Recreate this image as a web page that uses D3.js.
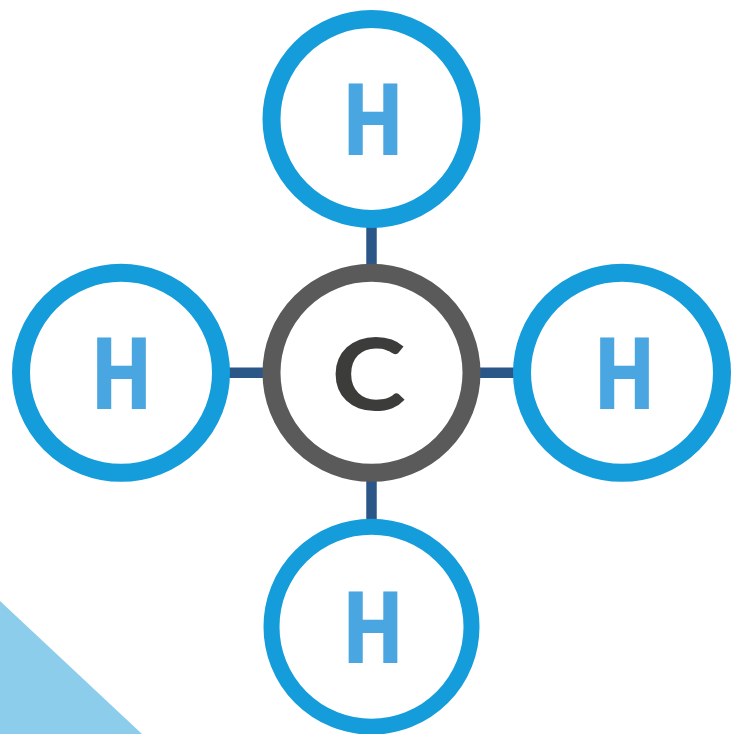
<!DOCTYPE html>
<html>
<head>
<meta charset="utf-8">
<script src="https://cdn.jsdelivr.net/npm/d3@7"></script>
<style>
  html, body { margin: 0; padding: 0; background: #fff; }
  svg { display: block; }
</style>
</head>
<body>
<div id="chart"></div>
<script>
// atoms of the methane diagram, position in bond units from the carbon
const atomLabels = ["C", "H", "H", "H", "H"];
const atomCols = [0, 0, -1, 1, 0];
const atomRows = [0, -1, 0, 0, 1];
const bondTo = [1, 2, 3, 4];

const width = 741, height = 734;

const x = d3.scaleLinear().domain([-1, 1]).range([121, 622]);
const y = d3.scaleLinear().domain([-1, 1]).range([119, 626.7]);

const atoms = atomLabels.map((label, i) => ({label, col: atomCols[i], row: atomRows[i]}));

const svg = d3.select("#chart")
    .append("svg")
        .attr("width", width)
        .attr("height", height);

// corner triangle
svg.append("path")
    .attr("d", "M0,601L142,734L0,734Z")
    .attr("fill", "#8bcdeb");

// bonds go under the rings
svg.selectAll(".bond")
    .data(bondTo)
    .enter().append("line")
        .attr("class", "bond")
        .attr("x1", x(0))
        .attr("y1", y(0))
        .attr("x2", d => x(atoms[d].col))
        .attr("y2", d => y(atoms[d].row))
        .attr("stroke", "#2b5788")
        .attr("stroke-width", 10.5);

svg.selectAll(".atom")
    .data(atoms)
    .enter().append("circle")
        .attr("class", "atom")
        .attr("cx", d => x(d.col))
        .attr("cy", d => y(d.row))
        .attr("r", 100)
        .attr("fill", "#fff")
        .attr("stroke", d => d.label === "C" ? "#5a5a5a" : "#159cdb")
        .attr("stroke-width", d => d.row === 1 ? 16 : 18); // bottom ring is a bit thinner

// H is squeezed and C stretched to get the wide geometric look
svg.selectAll(".label")
    .data(atoms)
    .enter().append("text")
        .attr("class", "label")
        .attr("transform", d => d.label === "C"
            ? `translate(${x(d.col) - 3},${y(d.row) + 37}) scale(1.13,1)`
            : `translate(${x(d.col) + 1.5 + d.col},${y(d.row) + 36}) scale(0.81,1)`)
        .attr("text-anchor", "middle")
        .style("font-family", d => d.label === "C" ? "Lato, sans-serif" : "Roboto, sans-serif")
        .style("font-weight", d => d.label === "C" ? "700" : "900")
        .style("font-size", d => d.label === "C" ? "100px" : "101px")
        .attr("fill", d => d.label === "C" ? "#3c3c3b" : "#4aa6e0")
        .text(d => d.label);
</script>
</body>
</html>
